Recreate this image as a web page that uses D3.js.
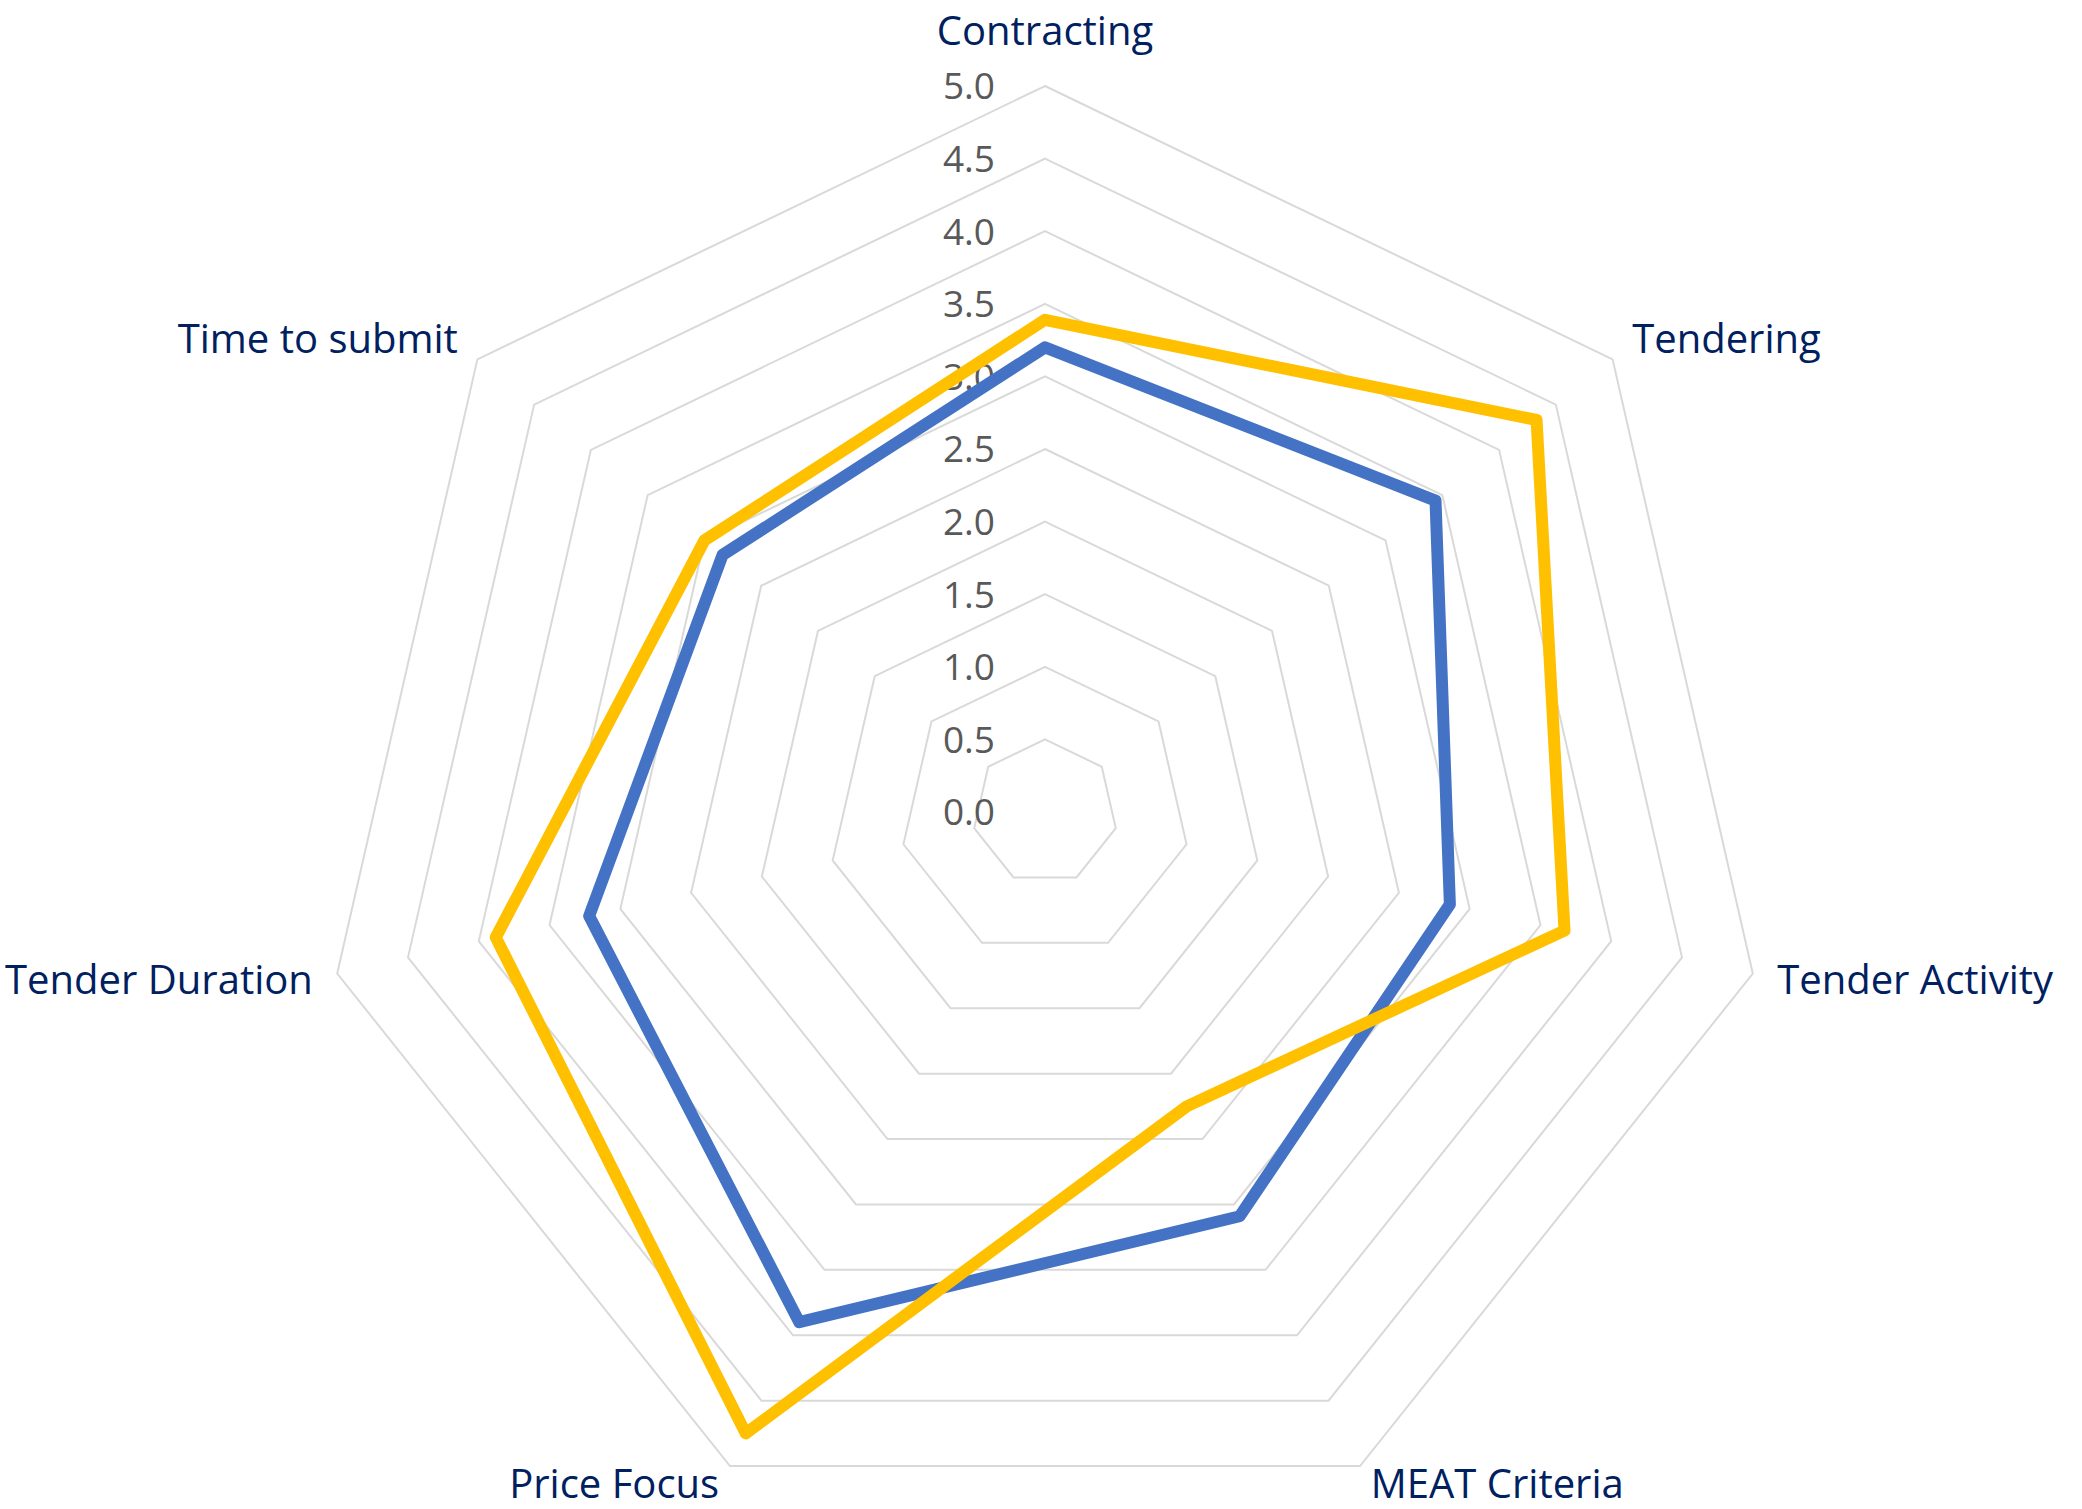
<!DOCTYPE html>
<html>
<head>
<meta charset="utf-8">
<script src="https://cdn.jsdelivr.net/npm/d3@7"></script>
<style>
  html, body { margin: 0; padding: 0; background: #ffffff; }
  svg { display: block; }
</style>
</head>
<body>
<svg id="chart" width="2082" height="1509"></svg>
<script>
// ---- data ----
const categories = ["Contracting", "Tendering", "Tender Activity", "MEAT Criteria", "Price Focus", "Tender Duration", "Time to submit"];
const seriesBlue = [3.2, 3.44, 2.86, 3.09, 3.9, 3.22, 2.84];
const seriesGold = [3.39, 4.33, 3.67, 2.25, 4.75, 3.88, 3.0];
const tickValues = [0, 0.5, 1, 1.5, 2, 2.5, 3, 3.5, 4, 4.5, 5];
const tickLabels = ["0.0", "0.5", "1.0", "1.5", "2.0", "2.5", "3.0", "3.5", "4.0", "4.5", "5.0"];

// ---- layout ----
const W = 2082, H = 1509;
const cx = 1045, cy = 812, R = 726;
const svg = d3.select("#chart");
const g = svg.append("g").attr("transform", `translate(${cx},${cy})`);

const r = d3.scaleLinear().domain([0, 5]).range([0, R]);
const angle = d3.scaleLinear().domain([0, categories.length]).range([0, 2 * Math.PI]);

// grid rings
const ringLine = d3.lineRadial()
  .angle((d, i) => angle(i))
  .radius(d => r(d))
  .curve(d3.curveLinearClosed);

g.append("g").selectAll("path")
  .data(tickValues.filter(v => v > 0))
  .join("path")
  .attr("d", v => ringLine(categories.map(() => v)))
  .attr("fill", "none")
  .attr("stroke", "#d9d9d9")
  .attr("stroke-width", 2);

// tick labels
g.append("g").selectAll("text")
  .data(tickValues)
  .join("text")
  .attr("x", -50)
  .attr("y", v => -r(v))
  .attr("dy", "0.36em")
  .attr("text-anchor", "end")
  .attr("font-family", "'Open Sans', 'Noto Sans', sans-serif")
  .attr("font-size", 37)
  .attr("fill", "#595959")
  .text((v, i) => tickLabels[i]);

// series
const seriesLine = d3.lineRadial()
  .angle((d, i) => angle(i))
  .radius(d => r(d))
  .curve(d3.curveLinearClosed);

[[seriesBlue, "#4472c4"], [seriesGold, "#ffc000"]].forEach(([vals, col]) => {
  g.append("path")
    .attr("d", seriesLine(vals))
    .attr("fill", "none")
    .attr("stroke", col)
    .attr("stroke-width", 12)
    .attr("stroke-linejoin", "round");
});

// axis labels
const pad = 25;
g.append("g").selectAll("text")
  .data(categories)
  .join("text")
  .each(function (d, i) {
    const a = angle(i);
    const s = Math.sin(a), c = Math.cos(a);
    let x = (R + pad) * s, y = -(R + pad) * c;
    let anchor = "middle";
    if (s > 0.1) anchor = "start";
    else if (s < -0.1) anchor = "end";
    else if (c > 0) y -= 30;
    if (c > 0.3 && c < 0.9) y -= 5;
    if (c < -0.5) y -= 5;
    d3.select(this)
      .attr("x", x)
      .attr("y", y)
      .attr("dy", "0.36em")
      .attr("text-anchor", anchor);
  })
  .attr("font-family", "'Open Sans', 'Noto Sans', sans-serif")
  .attr("font-size", 40)
  .attr("fill", "#002060")
  .text(d => d);
</script>
</body>
</html>
